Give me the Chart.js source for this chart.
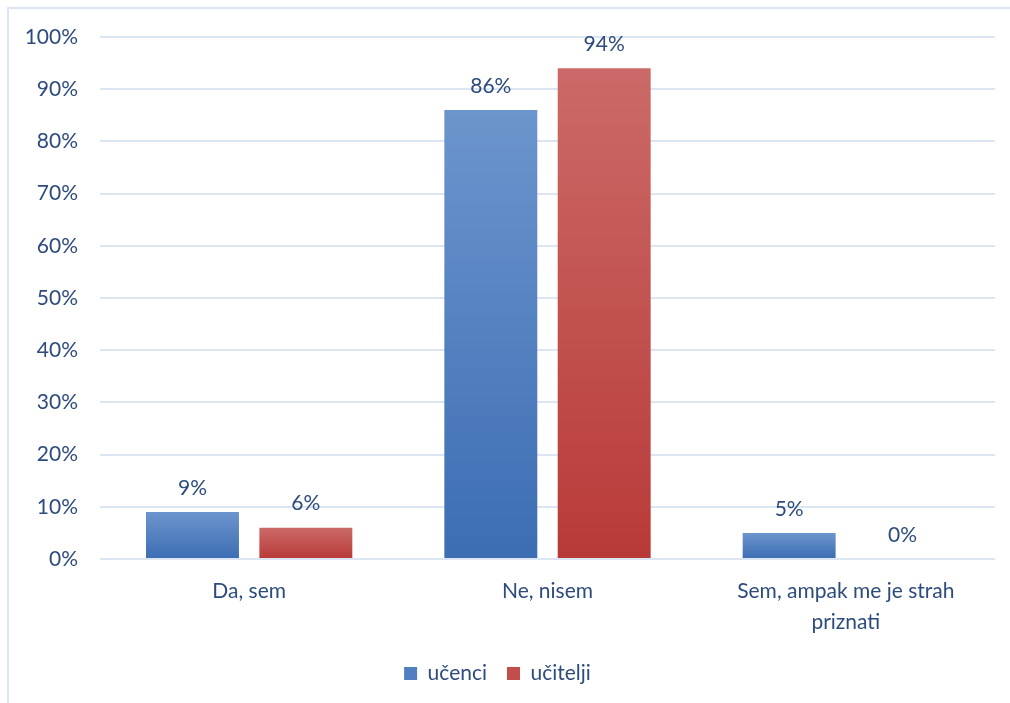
<!DOCTYPE html>
<html lang="sl">
<head>
    <meta charset="UTF-8">
    <title>Graf</title>
    <script src="https://cdn.jsdelivr.net/npm/chart.js@4.4.0/dist/chart.umd.min.js"></script>
    <style>
        html, body { margin: 0; padding: 0; background: #fff; overflow: hidden; }
        .frame {
            position: absolute;
            left: 7px;
            top: 7px;
            width: 1100px;
            height: 800px;
            border: 2px solid #dbe5f3;
        }
        .chart-wrap {
            position: absolute;
            left: 0;
            top: 0;
            width: 1010px;
            height: 703px;
        }
    </style>
</head>
<body>
    <div class="frame"></div>
    <div class="chart-wrap">
        <canvas id="chart"></canvas>
    </div>
    <script>
        const categories = ['Da, sem', 'Ne, nisem', ['Sem, ampak me je strah', 'priznati']];
        const seriesNames = ['učenci', 'učitelji'];
        const ucenci = [9, 86, 5];
        const ucitelji = [6, 94, 0];
        const yTicks = [0, 10, 20, 30, 40, 50, 60, 70, 80, 90, 100];

        const textColor = '#2d4b7c';
        const fontFamily = 'Lato, "Open Sans", sans-serif';
        const fontSize = 21;
        const blueStops = ['#6c95cd', '#3c6db3'];
        const redStops = ['#cb6a68', '#b83a38'];

        // per-bar vertical gradient, lighter on top
        function barGradient(stops) {
            return function (ctx) {
                const chart = ctx.chart;
                const y = chart.scales.y;
                if (!y || ctx.type !== 'data' || ctx.parsed == null) return stops[1];
                const top = y.getPixelForValue(ctx.parsed.y);
                const base = y.getPixelForValue(0);
                if (!isFinite(top) || base - top < 1) return stops[1];
                const g = chart.ctx.createLinearGradient(0, top, 0, base);
                g.addColorStop(0, stops[0]);
                g.addColorStop(1, stops[1]);
                return g;
            };
        }

        const valueLabels = {
            id: 'valueLabels',
            afterDatasetsDraw(chart) {
                const ctx = chart.ctx;
                ctx.save();
                ctx.font = fontSize + 'px ' + fontFamily;
                ctx.fillStyle = textColor;
                ctx.textAlign = 'center';
                ctx.textBaseline = 'middle';
                chart.data.datasets.forEach((ds, i) => {
                    chart.getDatasetMeta(i).data.forEach((bar, j) => {
                        ctx.fillText(ds.data[j] + '%', bar.x, bar.y - 24);
                    });
                });
                ctx.restore();
            }
        };

        new Chart(document.getElementById('chart'), {
            type: 'bar',
            data: {
                labels: categories,
                datasets: [
                    {
                        label: seriesNames[0],
                        data: ucenci,
                        backgroundColor: barGradient(blueStops),
                        categoryPercentage: 0.76,
                        barPercentage: 0.82
                    },
                    {
                        label: seriesNames[1],
                        data: ucitelji,
                        backgroundColor: barGradient(redStops),
                        categoryPercentage: 0.76,
                        barPercentage: 0.82
                    }
                ]
            },
            options: {
                responsive: true,
                maintainAspectRatio: false,
                animation: false,
                layout: {
                    padding: { top: 37, right: 15, bottom: 9, left: 0 }
                },
                plugins: {
                    tooltip: { enabled: false },
                    legend: {
                        position: 'bottom',
                        labels: {
                            color: textColor,
                            font: { family: fontFamily, size: fontSize },
                            boxWidth: 13,
                            boxHeight: 13,
                            padding: 20,
                            generateLabels(chart) {
                                return chart.data.datasets.map((ds, i) => ({
                                    text: ds.label,
                                    fillStyle: i === 0 ? '#4f7fc1' : '#c24d4b',
                                    strokeStyle: 'rgba(0,0,0,0)',
                                    lineWidth: 0,
                                    fontColor: textColor,
                                    datasetIndex: i
                                }));
                            }
                        }
                    }
                },
                scales: {
                    x: {
                        grid: { display: false },
                        border: { display: false },
                        ticks: {
                            color: textColor,
                            font: { family: fontFamily, size: fontSize, lineHeight: 1.5 },
                            padding: 8,
                            maxRotation: 0
                        },
                        afterFit(axis) { axis.height = 84; }
                    },
                    y: {
                        min: 0,
                        max: 100,
                        afterBuildTicks(axis) {
                            axis.ticks = yTicks.map(v => ({ value: v }));
                        },
                        grid: {
                            color: '#dce6f3',
                            lineWidth: 2,
                            drawTicks: false
                        },
                        border: { display: false },
                        ticks: {
                            color: textColor,
                            font: { family: fontFamily, size: fontSize },
                            padding: 22,
                            callback: v => v + '%'
                        },
                        afterFit(axis) { axis.width = 100; }
                    }
                }
            },
            plugins: [valueLabels]
        });
    </script>
</body>
</html>
